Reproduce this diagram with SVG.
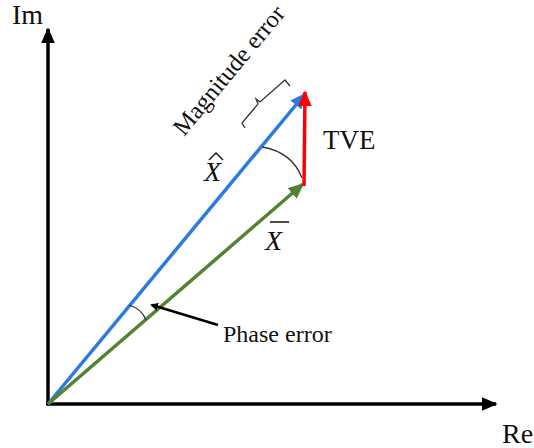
<svg xmlns="http://www.w3.org/2000/svg" width="534" height="448" viewBox="0 0 534 448">
<style>
text{font-family:"Liberation Serif","Times New Roman",serif;fill:#111}
.ax{stroke:#000;stroke-width:3.5;fill:none}
.thin{stroke:#333;stroke-width:1.3;fill:none}
</style>
<defs>
<marker id="ab" markerWidth="8" markerHeight="8" refX="6" refY="4" orient="auto" markerUnits="userSpaceOnUse" viewBox="0 0 8 8"><path d="M0,0 L8,4 L0,8 Z" fill="#000"/></marker>
<marker id="abig" viewBox="0 0 10 10" refX="9" refY="5" markerWidth="16" markerHeight="14" orient="auto" markerUnits="userSpaceOnUse" preserveAspectRatio="none"><path d="M0,0 L10,5 L0,10 Z" fill="#000"/></marker>
<marker id="mb" viewBox="0 0 10 10" refX="9" refY="5" markerWidth="16" markerHeight="14" orient="auto" markerUnits="userSpaceOnUse" preserveAspectRatio="none"><path d="M0,0 L10,5 L0,10 Z" fill="#2a7be0"/></marker>
<marker id="mg" viewBox="0 0 10 10" refX="9" refY="5" markerWidth="16" markerHeight="14" orient="auto" markerUnits="userSpaceOnUse" preserveAspectRatio="none"><path d="M0,0 L10,5 L0,10 Z" fill="#548235"/></marker>
<marker id="mr" viewBox="0 0 10 10" refX="9" refY="5" markerWidth="16" markerHeight="14" orient="auto" markerUnits="userSpaceOnUse" preserveAspectRatio="none"><path d="M0,0 L10,5 L0,10 Z" fill="#ff0000"/></marker>
</defs>
<g id="axes">
<line class="ax" x1="48" y1="404" x2="48" y2="29" marker-end="url(#abig)"/>
<line class="ax" x1="46" y1="404" x2="496" y2="404" marker-end="url(#abig)"/>
<text x="12" y="24" font-size="28">Im</text>
<text x="502" y="443" font-size="28">Re</text>
</g>
<g id="connectors">
<line x1="48" y1="404" x2="305" y2="94" stroke="#2a7be0" stroke-width="3.5" marker-end="url(#mb)"/>
<line x1="48" y1="404" x2="303" y2="184" stroke="#548235" stroke-width="3.5" marker-end="url(#mg)"/>
<line x1="304" y1="186" x2="305" y2="92" stroke="#ff0000" stroke-width="3.5" marker-end="url(#mr)"/>
<path class="thin" d="M262,147 Q292,152 302,178"/>
<path class="thin" d="M129,305 Q142,309 146,320"/>
<line x1="218" y1="325" x2="152" y2="305" stroke="#000" stroke-width="2.5" marker-end="url(#ab)"/>
<path class="thin" d="M245,128 L242,123 L258,104 L256,99 L260,102 L285,80 L290,86"/>
</g>
<g id="labels">
<text x="323" y="149" font-size="27">TVE</text>
<text x="204" y="181" font-size="28" font-style="italic">X</text>
<path d="M209,160 L216,153 L223,160" stroke="#111" stroke-width="1.4" fill="none"/>
<text x="265" y="250" font-size="28" font-style="italic">X</text>
<line x1="270" y1="222" x2="289" y2="222" stroke="#111" stroke-width="1.5"/>
<text x="223" y="342" font-size="24">Phase error</text>
<text x="0" y="0" font-size="24.5" transform="translate(184,137) rotate(-50.3)">Magnitude error</text>
</g>
</svg>
